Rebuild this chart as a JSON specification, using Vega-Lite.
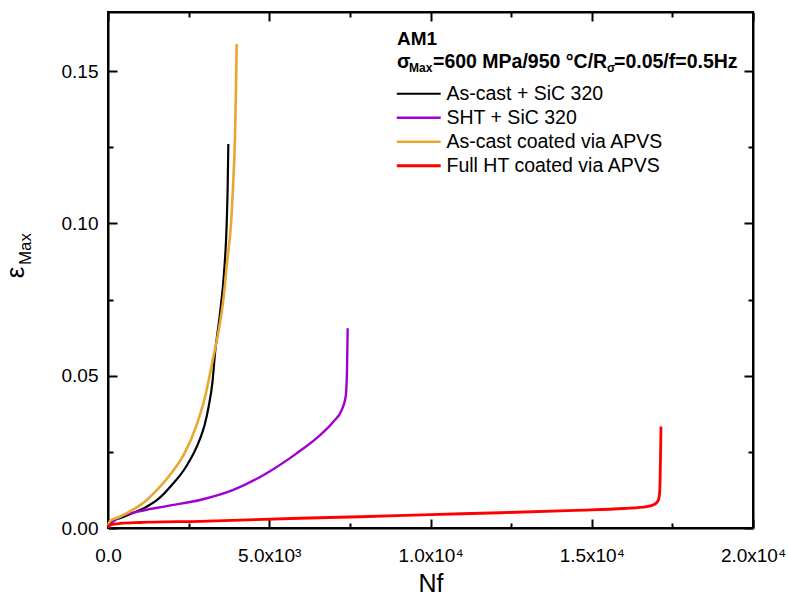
{
  "$schema": "https://vega.github.io/schema/vega-lite/v6.json",
  "width": 645,
  "height": 516,
  "autosize": "none",
  "padding": {"left": 108, "top": 12, "right": 35, "bottom": 68},
  "background": "white",
  "config": {
    "view": {"stroke": "black", "strokeWidth": 2},
    "axis": {"grid": false, "labelColor": "black", "labelFont": "Liberation Sans", "labelFontSize": 19, "titleFont": "Liberation Sans", "titleColor": "black", "titleFontWeight": "normal"},
    "text": {"font": "Liberation Sans", "color": "black"}
  },
  "datasets": {
    "curves": [
      {"s": "As-cast + SiC 320", "Nf": 0, "eps": 0.0008},
      {"s": "As-cast + SiC 320", "Nf": 62, "eps": 0.0021},
      {"s": "As-cast + SiC 320", "Nf": 372, "eps": 0.0032},
      {"s": "As-cast + SiC 320", "Nf": 786, "eps": 0.0050},
      {"s": "As-cast + SiC 320", "Nf": 1199, "eps": 0.0070},
      {"s": "As-cast + SiC 320", "Nf": 1580, "eps": 0.0097},
      {"s": "As-cast + SiC 320", "Nf": 1980, "eps": 0.0141},
      {"s": "As-cast + SiC 320", "Nf": 2420, "eps": 0.0201},
      {"s": "As-cast + SiC 320", "Nf": 2840, "eps": 0.0289},
      {"s": "As-cast + SiC 320", "Nf": 3000, "eps": 0.0340},
      {"s": "As-cast + SiC 320", "Nf": 3120, "eps": 0.0398},
      {"s": "As-cast + SiC 320", "Nf": 3240, "eps": 0.0480},
      {"s": "As-cast + SiC 320", "Nf": 3318, "eps": 0.0573},
      {"s": "As-cast + SiC 320", "Nf": 3473, "eps": 0.0705},
      {"s": "As-cast + SiC 320", "Nf": 3597, "eps": 0.0836},
      {"s": "As-cast + SiC 320", "Nf": 3680, "eps": 0.0998},
      {"s": "As-cast + SiC 320", "Nf": 3711, "eps": 0.1120},
      {"s": "As-cast + SiC 320", "Nf": 3731, "eps": 0.1261},
      {"s": "SHT + SiC 320", "Nf": 0, "eps": 0.0002},
      {"s": "SHT + SiC 320", "Nf": 165, "eps": 0.0021},
      {"s": "SHT + SiC 320", "Nf": 372, "eps": 0.0037},
      {"s": "SHT + SiC 320", "Nf": 786, "eps": 0.0050},
      {"s": "SHT + SiC 320", "Nf": 1819, "eps": 0.0072},
      {"s": "SHT + SiC 320", "Nf": 2853, "eps": 0.0092},
      {"s": "SHT + SiC 320", "Nf": 3886, "eps": 0.0125},
      {"s": "SHT + SiC 320", "Nf": 4920, "eps": 0.0180},
      {"s": "SHT + SiC 320", "Nf": 5850, "eps": 0.0245},
      {"s": "SHT + SiC 320", "Nf": 6522, "eps": 0.0300},
      {"s": "SHT + SiC 320", "Nf": 6987, "eps": 0.0349},
      {"s": "SHT + SiC 320", "Nf": 7245, "eps": 0.0387},
      {"s": "SHT + SiC 320", "Nf": 7369, "eps": 0.0431},
      {"s": "SHT + SiC 320", "Nf": 7411, "eps": 0.0519},
      {"s": "SHT + SiC 320", "Nf": 7432, "eps": 0.0656},
      {"s": "As-cast coated via APVS", "Nf": 0, "eps": 0.0008},
      {"s": "As-cast coated via APVS", "Nf": 62, "eps": 0.0023},
      {"s": "As-cast coated via APVS", "Nf": 372, "eps": 0.0037},
      {"s": "As-cast coated via APVS", "Nf": 786, "eps": 0.0061},
      {"s": "As-cast coated via APVS", "Nf": 1170, "eps": 0.0089},
      {"s": "As-cast coated via APVS", "Nf": 1520, "eps": 0.0125},
      {"s": "As-cast coated via APVS", "Nf": 1920, "eps": 0.0174},
      {"s": "As-cast coated via APVS", "Nf": 2370, "eps": 0.0245},
      {"s": "As-cast coated via APVS", "Nf": 2730, "eps": 0.0333},
      {"s": "As-cast coated via APVS", "Nf": 3010, "eps": 0.0431},
      {"s": "As-cast coated via APVS", "Nf": 3250, "eps": 0.0552},
      {"s": "As-cast coated via APVS", "Nf": 3452, "eps": 0.0661},
      {"s": "As-cast coated via APVS", "Nf": 3576, "eps": 0.0749},
      {"s": "As-cast coated via APVS", "Nf": 3700, "eps": 0.0880},
      {"s": "As-cast coated via APVS", "Nf": 3814, "eps": 0.0998},
      {"s": "As-cast coated via APVS", "Nf": 3886, "eps": 0.1142},
      {"s": "As-cast coated via APVS", "Nf": 3938, "eps": 0.1285},
      {"s": "As-cast coated via APVS", "Nf": 3969, "eps": 0.1449},
      {"s": "As-cast coated via APVS", "Nf": 3990, "eps": 0.1589},
      {"s": "Full HT coated via APVS", "Nf": 0, "eps": 0.0003},
      {"s": "Full HT coated via APVS", "Nf": 62, "eps": 0.0010},
      {"s": "Full HT coated via APVS", "Nf": 372, "eps": 0.0015},
      {"s": "Full HT coated via APVS", "Nf": 1000, "eps": 0.0018},
      {"s": "Full HT coated via APVS", "Nf": 2853, "eps": 0.0022},
      {"s": "Full HT coated via APVS", "Nf": 5953, "eps": 0.0032},
      {"s": "Full HT coated via APVS", "Nf": 7814, "eps": 0.0037},
      {"s": "Full HT coated via APVS", "Nf": 10000, "eps": 0.0044},
      {"s": "Full HT coated via APVS", "Nf": 12155, "eps": 0.0050},
      {"s": "Full HT coated via APVS", "Nf": 14500, "eps": 0.0058},
      {"s": "Full HT coated via APVS", "Nf": 16000, "eps": 0.0064},
      {"s": "Full HT coated via APVS", "Nf": 16703, "eps": 0.0070},
      {"s": "Full HT coated via APVS", "Nf": 16950, "eps": 0.0078},
      {"s": "Full HT coated via APVS", "Nf": 17060, "eps": 0.0090},
      {"s": "Full HT coated via APVS", "Nf": 17100, "eps": 0.0110},
      {"s": "Full HT coated via APVS", "Nf": 17120, "eps": 0.0160},
      {"s": "Full HT coated via APVS", "Nf": 17135, "eps": 0.0250},
      {"s": "Full HT coated via APVS", "Nf": 17147, "eps": 0.0333}
    ]
  },
  "data": {"name": "curves"},
  "layer": [
    {
      "mark": {"type": "line", "interpolate": "monotone"},
      "encoding": {
        "x": {"field": "Nf", "type": "quantitative", "scale": {"domain": [0, 20000], "nice": false, "zero": false},
          "axis": {"orient": "bottom", "values": [0, 5000, 10000, 15000, 20000], "labelExpr": "datum.value === 0 ? '0.0' : datum.value === 5000 ? '5.0x10³' : datum.value === 10000 ? '1.0x10⁴' : datum.value === 15000 ? '1.5x10⁴' : '2.0x10⁴'", "domain": true, "domainColor": "black", "domainWidth": 2, "ticks": true, "tickSize": -9, "tickColor": "black", "tickWidth": 2, "labelPadding": 27, "labelFlush": false, "labelOverlap": false, "labelBound": false, "title": "Nf", "titleFontSize": 25, "titlePadding": 6}},
        "y": {"field": "eps", "type": "quantitative", "scale": {"domain": [0, 0.1694], "nice": false, "zero": false},
          "axis": {"orient": "left", "values": [0, 0.05, 0.1, 0.15], "format": ".2f", "domain": true, "domainColor": "black", "domainWidth": 2, "ticks": true, "tickSize": -9, "tickColor": "black", "tickWidth": 2, "labelPadding": 19, "labelFlush": false, "labelOverlap": false, "title": null}},
        "color": {"field": "s", "type": "nominal",
          "scale": {"domain": ["As-cast + SiC 320", "SHT + SiC 320", "As-cast coated via APVS", "Full HT coated via APVS"], "range": ["#000000", "#a000d0", "#e8a830", "#ff0000"]},
          "legend": {"title": null, "orient": "none", "legendX": 301, "legendY": 72, "padding": 0, "symbolType": "M-5,0H5", "symbolSize": 77, "symbolStrokeWidth": 2, "labelFont": "Liberation Sans", "labelFontSize": 19.5, "labelColor": "black", "labelOffset": 18, "rowPadding": 3, "labelLimit": 400}},
        "strokeWidth": {"field": "s", "type": "nominal", "scale": {"domain": ["As-cast + SiC 320", "SHT + SiC 320", "As-cast coated via APVS", "Full HT coated via APVS"], "range": [2.2, 2.8, 1.8, 3.4]}, "legend": null}
      }
    },
    {
      "mark": {"type": "point", "opacity": 0},
      "encoding": {
        "x": {"field": "Nf", "type": "quantitative", "axis": {"orient": "top", "values": [0, 5000, 10000, 15000, 20000], "labels": false, "domain": true, "domainColor": "black", "domainWidth": 2, "ticks": true, "tickSize": -9, "tickColor": "black", "tickWidth": 2, "title": null}},
        "y": {"field": "eps", "type": "quantitative", "axis": {"orient": "right", "values": [0, 0.05, 0.1, 0.15], "labels": false, "domain": true, "domainColor": "black", "domainWidth": 2, "ticks": true, "tickSize": -9, "tickColor": "black", "tickWidth": 2, "title": null}}
      }
    },
    {
      "mark": {"type": "point", "opacity": 0},
      "encoding": {
        "x": {"field": "Nf", "type": "quantitative", "axis": {"orient": "bottom", "values": [2500, 7500, 12500, 17500], "labels": false, "domain": false, "ticks": true, "tickSize": -5, "tickColor": "black", "tickWidth": 2, "title": null}},
        "y": {"field": "eps", "type": "quantitative", "axis": {"orient": "left", "values": [0.025, 0.075, 0.125], "labels": false, "domain": false, "ticks": true, "tickSize": -5, "tickColor": "black", "tickWidth": 2, "title": null}}
      }
    },
    {
      "mark": {"type": "point", "opacity": 0},
      "encoding": {
        "x": {"field": "Nf", "type": "quantitative", "axis": {"orient": "top", "values": [2500, 7500, 12500, 17500], "labels": false, "domain": false, "ticks": true, "tickSize": -5, "tickColor": "black", "tickWidth": 2, "title": null}},
        "y": {"field": "eps", "type": "quantitative", "axis": {"orient": "right", "values": [0.025, 0.075, 0.125], "labels": false, "domain": false, "ticks": true, "tickSize": -5, "tickColor": "black", "tickWidth": 2, "title": null}}
      }
    },
    {
      "data": {"values": [{}]},
      "mark": {"type": "text", "text": "AM1", "fontSize": 19, "fontWeight": "bold", "align": "left", "baseline": "middle"},
      "encoding": {"x": {"datum": 8961, "type": "quantitative", "axis": null}, "y": {"datum": 0.1604, "type": "quantitative", "axis": null}}
    },
    {
      "data": {"values": [{}]},
      "mark": {"type": "text", "text": "σ", "fontSize": 19.5, "fontWeight": "bold", "align": "left", "baseline": "middle"},
      "encoding": {"x": {"datum": 8961, "type": "quantitative", "axis": null}, "y": {"datum": 0.1530, "type": "quantitative", "axis": null}}
    },
    {
      "data": {"values": [{}]},
      "mark": {"type": "text", "text": "Max", "fontSize": 12, "fontWeight": "bold", "align": "left", "baseline": "middle"},
      "encoding": {"x": {"datum": 9333, "type": "quantitative", "axis": null}, "y": {"datum": 0.1510, "type": "quantitative", "axis": null}}
    },
    {
      "data": {"values": [{}]},
      "mark": {"type": "text", "text": "=600 MPa/950 °C/R", "fontSize": 19.5, "fontWeight": "bold", "align": "left", "baseline": "middle"},
      "encoding": {"x": {"datum": 10078, "type": "quantitative", "axis": null}, "y": {"datum": 0.1530, "type": "quantitative", "axis": null}}
    },
    {
      "data": {"values": [{}]},
      "mark": {"type": "text", "text": "σ", "fontSize": 12, "fontWeight": "bold", "align": "left", "baseline": "middle"},
      "encoding": {"x": {"datum": 15470, "type": "quantitative", "axis": null}, "y": {"datum": 0.1510, "type": "quantitative", "axis": null}}
    },
    {
      "data": {"values": [{}]},
      "mark": {"type": "text", "text": "=0.05/f=0.5Hz", "fontSize": 19.5, "fontWeight": "bold", "align": "left", "baseline": "middle"},
      "encoding": {"x": {"datum": 15690, "type": "quantitative", "axis": null}, "y": {"datum": 0.1530, "type": "quantitative", "axis": null}}
    },
    {
      "data": {"values": [{}]},
      "mark": {"type": "text", "text": "ε", "fontSize": 26, "angle": 270, "align": "center", "baseline": "middle"},
      "encoding": {"x": {"datum": -2862, "type": "quantitative", "axis": null}, "y": {"datum": 0.0839, "type": "quantitative", "axis": null}}
    },
    {
      "data": {"values": [{}]},
      "mark": {"type": "text", "text": "Max", "fontSize": 17, "angle": 270, "align": "center", "baseline": "middle"},
      "encoding": {"x": {"datum": -2552, "type": "quantitative", "axis": null}, "y": {"datum": 0.0916, "type": "quantitative", "axis": null}}
    }
  ],
  "resolve": {"axis": {"x": "independent", "y": "independent"}}
}
